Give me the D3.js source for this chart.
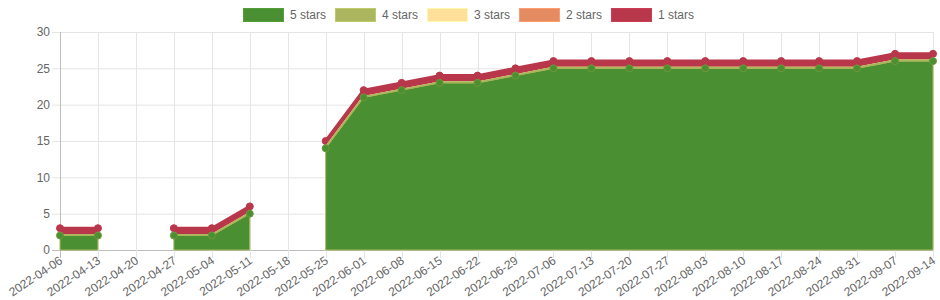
<!DOCTYPE html>
<html><head><meta charset="utf-8">
<script src="https://cdn.jsdelivr.net/npm/d3@7"></script>
<style>body{margin:0;background:#fff}svg{display:block;font-family:"Liberation Sans",Arial,sans-serif}</style>
</head><body><svg id="c" width="940" height="300"></svg>
<script>
const dates = ["2022-04-06","2022-04-13","2022-04-20","2022-04-27","2022-05-04","2022-05-11","2022-05-18","2022-05-25","2022-06-01","2022-06-08","2022-06-15","2022-06-22","2022-06-29","2022-07-06","2022-07-13","2022-07-20","2022-07-27","2022-08-03","2022-08-10","2022-08-17","2022-08-24","2022-08-31","2022-09-07","2022-09-14"];
const stars5 = [2,2,null,2,2,5,null,14,21,22,23,23,24,25,25,25,25,25,25,25,25,25,26,26];
const stars4 = [0,0,null,0,0,0,null,0,0,0,0,0,0,0,0,0,0,0,0,0,0,0,0,0];
const stars3 = [0,0,null,0,0,0,null,0,0,0,0,0,0,0,0,0,0,0,0,0,0,0,0,0];
const stars2 = [0,0,null,0,0,0,null,0,0,0,0,0,0,0,0,0,0,0,0,0,0,0,0,0];
const stars1 = [1,1,null,1,1,1,null,1,1,1,1,1,1,1,1,1,1,1,1,1,1,1,1,1];
const seriesNames = ["5 stars","4 stars","3 stars","2 stars","1 stars"];
const seriesColors = ["#4a8f31","#abb65e","#fee09b","#e58b61","#b9374b"];
const yTicks = [0,5,10,15,20,25,30];

const svg = d3.select("#c");
const W=940,H=300, m={l:60,r:7,t:32,b:50};
const x = d3.scalePoint().domain(dates).range([m.l, W-m.r]);
const y = d3.scaleLinear().domain([0,30]).range([H-m.b, m.t]);

const rows = dates.map((d,i)=>({date:d, s5:stars5[i], s4:stars4[i], s3:stars3[i], s2:stars2[i], s1:stars1[i]}));
const keys=["s5","s4","s3","s2","s1"];
const stack = d3.stack().keys(keys).value((d,k)=> d[k]==null? NaN : d[k]);
const st = stack(rows);

// grid
const g = svg.append("g");
g.selectAll(".hy").data(yTicks).join("line")
  .attr("x1",m.l-8).attr("x2",W-m.r).attr("y1",d=>y(d)+0.5).attr("y2",d=>y(d)+0.5)
  .attr("stroke",d=>d===0?"#bdbdbd":"#e5e5e5").attr("stroke-width",1);
g.selectAll(".vx").data(dates).join("line")
  .attr("x1",d=>Math.round(x(d))+0.5).attr("x2",d=>Math.round(x(d))+0.5)
  .attr("y1",m.t).attr("y2",H-m.b+8)
  .attr("stroke",(d,i)=>i===0?"#bdbdbd":"#e5e5e5");

// y labels
g.selectAll(".yl").data(yTicks).join("text")
  .attr("x",m.l-10).attr("y",d=>y(d)).attr("dy","0.35em").attr("text-anchor","end")
  .attr("font-size",12).attr("fill","#666").text(d=>d);
// x labels
g.selectAll(".xl").data(dates).join("text")
  .attr("transform",d=>`translate(${x(d)+1},${H-m.b+9}) rotate(-34)`)
  .attr("text-anchor","end").attr("dy","0.35em")
  .attr("font-size",12).attr("fill","#666").text(d=>d);

const defined = d=>!isNaN(d[1]);
const area = d3.area().defined(defined).x((d,i)=>x(dates[i])).y0(d=>y(d[0])).y1(d=>y(d[1]));
const line = d3.line().defined(defined).x((d,i)=>x(dates[i])).y(d=>y(d[1]));

const plot = svg.append("g");
// draw in reverse order (1 stars first), 5 stars last on top
for (let k=4;k>=0;k--){
  const s = st[k];
  const col = seriesColors[k];
  if(k>0){
    plot.append("path").datum(s).attr("d",area).attr("fill",col);
  } else {
    plot.append("path").datum(s.map(d=>{const c=[0,d[1]];c.data=d.data;return c;})).attr("d",area)
      .attr("fill",col).attr("stroke","#abb65e").attr("stroke-width",1);
  }
  plot.append("path").datum(s).attr("d",line).attr("fill","none")
    .attr("stroke",k===0?"#abb65e":col).attr("stroke-width",k===0?1:3).attr("stroke-linejoin","round");
  if(k===0||k===4){
    plot.selectAll(null).data(s.filter(defined)).join("circle")
      .attr("cx",d=>x(d.data.date)).attr("cy",d=>y(d[1])).attr("r",3.5)
      .attr("fill",col).attr("stroke",k===0?"#6a9a3a":col).attr("stroke-width",1);
  }
}

// legend
const lg = svg.append("g");
seriesNames.forEach((n,i)=>{
  const lx = 243 + i*92;
  lg.append("rect").attr("x",lx+0.5).attr("y",8.5).attr("width",40).attr("height",13)
    .attr("fill",seriesColors[i]).attr("stroke",d3.color(seriesColors[i]).brighter(0.3)).attr("stroke-width",1);
  lg.append("text").attr("x",lx+47).attr("y",15).attr("dy","0.35em").attr("font-size",12).attr("fill","#666").text(n);
});
</script></body></html>
